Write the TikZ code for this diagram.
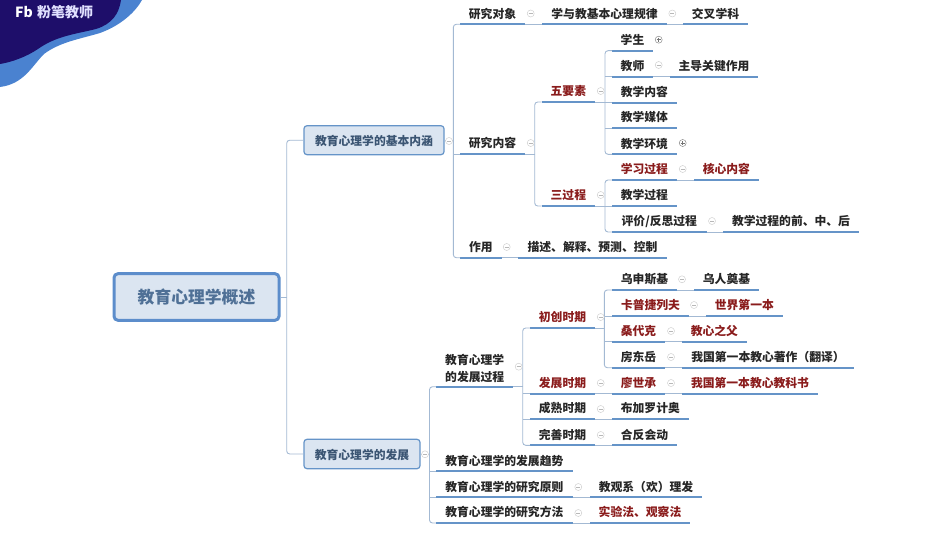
\documentclass[tikz,border=0pt]{standalone}
\usepackage{fontspec}
\setmainfont{Noto Sans CJK SC}
\usetikzlibrary{calc}
\definecolor{ulinec}{HTML}{6594C8}
\definecolor{connc}{HTML}{A3B9D3}
\definecolor{boxfill}{HTML}{DBE5F1}
\definecolor{redt}{HTML}{8A1C1C}
\definecolor{blackt}{HTML}{262626}
\definecolor{boxt}{HTML}{3B5573}
\definecolor{roott}{HTML}{4F7096}
\definecolor{rootline}{HTML}{5C8DCB}
\definecolor{navy}{HTML}{1E0E6A}
\definecolor{wave}{HTML}{4A82D0}
\tikzset{
  lab/.style={inner sep=0pt,outer sep=0pt,minimum height=22,text height=11,text depth=1.2,anchor=south west,text=blackt,font=\fontsize{11.8}{14}\bfseries},
  redlab/.style={lab,text=redt},
  uline/.style={draw=ulinec,line width=2},
  conn/.style={draw=connc,line width=0.9,rounded corners=3},
  topicbox/.style={draw=ulinec,line width=1.2,fill=boxfill,rounded corners=3,inner sep=0pt,text=boxt,text height=11,text depth=1,font=\fontsize{11.8}{14}\bfseries},
  rootbox/.style={draw=rootline,line width=3,fill=boxfill,rounded corners=4,inner sep=0pt,text=roott,text height=15.4,text depth=1.6,font=\fontsize{16.8}{20}\bfseries},
  foldm/.style={circle,draw=black!18,line width=0.5,fill=white,minimum size=7,inner sep=0pt,
    path picture={\draw[black!28,line width=0.6] ($(path picture bounding box.center)+(-2,0)$) -- ($(path picture bounding box.center)+(2,0)$);}},
  foldp/.style={circle,draw=black!45,line width=0.5,fill=white,minimum size=7,inner sep=0pt,
    path picture={\draw[black!55,line width=0.6] ($(path picture bounding box.center)+(-2,0)$) -- ($(path picture bounding box.center)+(2,0)$);
      \draw[black!55,line width=0.6] ($(path picture bounding box.center)+(0,-2)$) -- ($(path picture bounding box.center)+(0,2)$);}}
}
% [style], name, x1, x2, y of the line, text
\newcommand{\leafb}[6][lab]{%
  \pgfmathsetmacro{\wid}{#4-#3}%
  \node[#1,minimum width=\wid] (#2) at (#3,#5) {#6};
  \draw[uline] (#2.south west) -- (#2.south east);
}
\newcommand{\foldm}[3]{\node[foldm] (#1) at (#2,#3) {};}
\newcommand{\foldp}[3]{\node[foldp] (#1) at (#2,#3) {};}
\newcommand{\chain}[2]{\draw[conn] (#1.south east) -- (#2.south west);}
\begin{document}
\begin{tikzpicture}[x=1pt,y=-1pt]
\useasboundingbox (0,0) rectangle (950,535);
% banner
\fill[wave] (0,0) -- (142,0) .. controls (136,11) and (122,25) .. (100,33) .. controls (80,39) and (60,42) .. (44,54) .. controls (32,66) and (24,84) .. (0,87) -- cycle;
\fill[navy] (0,0) -- (121,0) .. controls (119,14) and (112,24) .. (96,29) .. controls (76,34) and (56,36) .. (38,49) .. controls (26,57) and (12,62) .. (0,64) -- cycle;
\node[inner sep=0,text=white,font=\fontsize{14}{16}\bfseries,anchor=center] (logo) at (24,12) {Fb};
\node[inner sep=0,text=white!88!blue,font=\fontsize{14}{16}\bfseries,anchor=center] (brand) at (65,12) {粉笔教师};
% trunks
\coordinate (t0) at (286.7,0);
\coordinate (t1) at (453.3,0);
\coordinate (t2) at (534.7,0);
\coordinate (t3) at (605,0);
\coordinate (t4) at (429.5,0);
\coordinate (t5) at (522.7,0);
\coordinate (t6) at (604.3,0);
% main boxes
\node[rootbox,minimum width=165,minimum height=46.6] (root) at (196.5,297) {教育心理学概述};
\node[topicbox,minimum width=140,minimum height=29] (basic) at (374,140.2) {教育心理学的基本内涵};
\node[topicbox,minimum width=116,minimum height=29.4] (devel) at (362,454) {教育心理学的发展};
% upper branch
\leafb{aobj}{460}{525}{24.3}{研究对象}
\leafb{alaw}{542}{667}{24.3}{学与教基本心理规律}
\leafb{across}{683}{748}{24.3}{交叉学科}
\leafb{acont}{460}{525}{154}{研究内容}
\leafb[redlab]{afive}{541.7}{595}{102}{五要素}
\leafb{astud}{612}{653}{50.7}{学生}
\leafb{ateach}{612}{653}{76.7}{教师}
\leafb{alead}{670}{758}{76.7}{主导关键作用}
\leafb{amat}{612}{676.7}{102.7}{教学内容}
\leafb{amedia}{612}{676.7}{128}{教学媒体}
\leafb{aenv}{612}{676.7}{154.3}{教学环境}
\leafb[redlab]{athree}{541.7}{595}{206}{三过程}
\leafb[redlab]{alearn}{612}{676.7}{180}{学习过程}
\leafb[redlab]{acore}{694}{758.7}{180}{核心内容}
\leafb{ateachp}{612}{676.7}{206}{教学过程}
\leafb{aeval}{612}{706.7}{232}{评价/反思过程}
\leafb{aphase}{723}{859}{232}{教学过程的前、中、后}
\leafb{ause}{460}{501.7}{257.7}{作用}
\leafb{adesc}{518}{667}{257.7}{描述、解释、预测、控制}
% lower branch
\leafb{bproc}{436}{513.3}{386.7}{}
\node[inner sep=0pt,text=blackt,font=\fontsize{11.8}{17.6}\bfseries,align=left,anchor=west] (bproctext) at (445,368.6) {教育心理学\\的发展过程};
\leafb[redlab]{bfirst}{530}{595}{328}{初创时期}
\leafb{bush}{612}{677}{290}{乌申斯基}
\leafb{bushn}{694}{759}{290}{乌人奠基}
\leafb[redlab]{bkap}{612}{689}{316}{卡普捷列夫}
\leafb[redlab]{bkapn}{706}{782.7}{316}{世界第一本}
\leafb[redlab]{bthorn}{612}{665}{341.7}{桑代克}
\leafb[redlab]{bthornn}{682}{746.7}{341.7}{教心之父}
\leafb{bfang}{612}{665}{367.7}{房东岳}
\leafb{bfangn}{682}{854}{367.7}{我国第一本教心著作（翻译）}
\leafb[redlab]{bgrow}{530}{595}{393.5}{发展时期}
\leafb[redlab]{bliao}{612}{665}{393.5}{廖世承}
\leafb[redlab]{bliaon}{682}{818}{393.5}{我国第一本教心教科书}
\leafb{bmat}{530}{595}{419}{成熟时期}
\leafb{bblo}{612}{688.7}{419}{布加罗计奥}
\leafb{bperf}{530}{595}{445.3}{完善时期}
\leafb{bhe}{612}{677}{445.3}{合反会动}
\leafb{btrend}{436}{572.7}{471.3}{教育心理学的发展趋势}
\leafb{bprin}{436}{572.7}{497.3}{教育心理学的研究原则}
\leafb{bprinn}{590}{702}{497.3}{教观系（欢）理发}
\leafb{bmeth}{436}{572.7}{523}{教育心理学的研究方法}
\leafb[redlab]{bmethn}{590}{690}{523}{实验法、观察法}
% connectors: root level
\draw[conn] (root.east) -- (t0 |- root.east);
\draw[conn] (basic.west) -- (t0 |- basic.west) -- (t0 |- devel.west) -- (devel.west);
% upper trunk
\draw[conn] (basic.east) -- (t1 |- basic.east);
\draw[conn] (aobj.south west) -- (t1 |- aobj.south west) -- (t1 |- ause.south west) -- (ause.south west);
\draw[conn] (t1 |- acont.south west) -- (acont.south west);
\chain{aobj}{alaw}
\chain{alaw}{across}
\chain{ause}{adesc}
\draw[conn] (acont.south east) -- (t2 |- acont.south east);
\draw[conn] (afive.south west) -- (t2 |- afive.south west) -- (t2 |- athree.south west) -- (athree.south west);
\draw[conn] (afive.south east) -- (t3 |- afive.south east);
\draw[conn] (astud.south west) -- (t3 |- astud.south west) -- (t3 |- aenv.south west) -- (aenv.south west);
\draw[conn] (t3 |- ateach.south west) -- (ateach.south west);
\draw[conn] (t3 |- amat.south west) -- (amat.south west);
\draw[conn] (t3 |- amedia.south west) -- (amedia.south west);
\chain{ateach}{alead}
\draw[conn] (athree.south east) -- (t3 |- athree.south east);
\draw[conn] (alearn.south west) -- (t3 |- alearn.south west) -- (t3 |- aeval.south west) -- (aeval.south west);
\draw[conn] (t3 |- ateachp.south west) -- (ateachp.south west);
\chain{alearn}{acore}
\chain{aeval}{aphase}
% lower trunk
\draw[conn] (devel.east) -- (t4 |- devel.east);
\draw[conn] (bproc.south west) -- (t4 |- bproc.south west) -- (t4 |- bmeth.south west) -- (bmeth.south west);
\draw[conn] (t4 |- btrend.south west) -- (btrend.south west);
\draw[conn] (t4 |- bprin.south west) -- (bprin.south west);
\chain{bprin}{bprinn}
\chain{bmeth}{bmethn}
\draw[conn] (bproc.south east) -- (t5 |- bproc.south east);
\draw[conn] (bfirst.south west) -- (t5 |- bfirst.south west) -- (t5 |- bperf.south west) -- (bperf.south west);
\draw[conn] (t5 |- bgrow.south west) -- (bgrow.south west);
\draw[conn] (t5 |- bmat.south west) -- (bmat.south west);
\draw[conn] (bfirst.south east) -- (t6 |- bfirst.south east);
\draw[conn] (bush.south west) -- (t6 |- bush.south west) -- (t6 |- bfang.south west) -- (bfang.south west);
\draw[conn] (t6 |- bkap.south west) -- (bkap.south west);
\draw[conn] (t6 |- bthorn.south west) -- (bthorn.south west);
\chain{bush}{bushn}
\chain{bkap}{bkapn}
\chain{bthorn}{bthornn}
\chain{bfang}{bfangn}
\chain{bgrow}{bliao}
\chain{bliao}{bliaon}
\chain{bmat}{bblo}
\chain{bperf}{bhe}
% fold marks
\foldm{f1}{449}{141}
\foldm{f2}{530.7}{13.5}
\foldm{f3}{672.3}{13.5}
\foldm{f4}{530.7}{143}
\foldm{f5}{600.7}{91}
\foldp{f6}{658.7}{39.7}
\foldm{f7}{658.7}{65}
\foldp{f8}{682.7}{143}
\foldm{f9}{600.7}{195}
\foldm{f10}{682.7}{169}
\foldm{f11}{712}{221}
\foldm{f12}{506.7}{247}
\foldm{f13}{425}{454.3}
\foldm{f14}{518.7}{366.7}
\foldm{f15}{600.7}{317}
\foldm{f16}{682}{279.3}
\foldm{f17}{694}{305}
\foldm{f18}{671}{331}
\foldm{f19}{671}{357}
\foldm{f20}{600.7}{383}
\foldm{f21}{671}{383}
\foldm{f22}{600.7}{409}
\foldm{f23}{600.7}{435}
\foldm{f24}{578.3}{487}
\foldm{f25}{578.3}{513}
\end{tikzpicture}
\end{document}
